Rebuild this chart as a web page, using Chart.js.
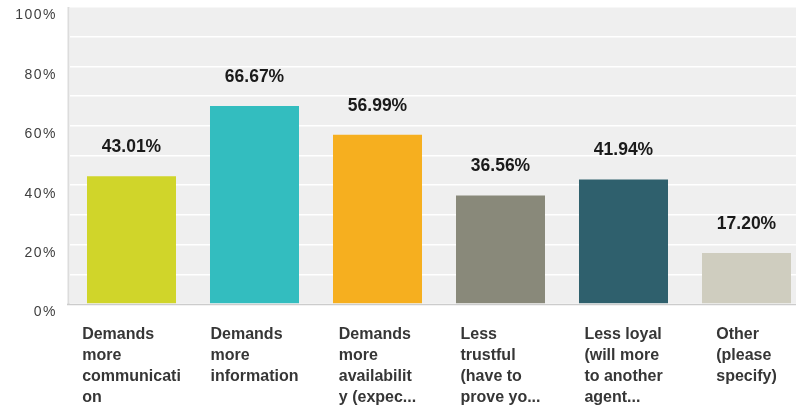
<!DOCTYPE html>
<html>
<head>
<meta charset="utf-8">
<script src="https://cdn.jsdelivr.net/npm/chart.js@4/dist/chart.umd.min.js"></script>
<style>
  html, body { margin: 0; padding: 0; background: #ffffff; overflow: hidden; }
  #wrap { width: 808px; height: 410px; }
</style>
</head>
<body>
<div id="wrap"><canvas id="c" width="808" height="410"></canvas></div>
<script>
// ---- data ----
const categories = [
  ["Demands", "more", "communicati", "on"],
  ["Demands", "more", "information"],
  ["Demands", "more", "availabilit", "y (expec..."],
  ["Less", "trustful", "(have to", "prove yo..."],
  ["Less loyal", "(will more", "to another", "agent..."],
  ["Other", "(please", "specify)"]
];
const values = [43.01, 66.67, 56.99, 36.56, 41.94, 17.20];
const barColors = ["#d0d52a", "#33bdbf", "#f6af1f", "#89897a", "#2f606d", "#cfcdbf"];
const yTickValues = [0, 20, 40, 60, 80, 100];
const yTickLabels = ["0%", "20%", "40%", "60%", "80%", "100%"];

const FONT = "'Liberation Sans', Arial, sans-serif";

const decor = {
  id: 'decor',
  beforeDraw(chart) {
    const { ctx, chartArea: a } = chart;
    ctx.save();
    ctx.fillStyle = '#efefef';
    ctx.fillRect(a.left, a.top, a.right - a.left, a.bottom - a.top);
    ctx.restore();
  },
  afterDatasetsDraw(chart) {
    const { ctx, chartArea: a, scales } = chart;
    ctx.save();
    // left border
    ctx.strokeStyle = '#dcdcdc';
    ctx.lineWidth = 2;
    ctx.beginPath();
    ctx.moveTo(a.left - 1.5, a.top);
    ctx.lineTo(a.left - 1.5, a.bottom + 1);
    ctx.stroke();
    // bottom axis line
    ctx.strokeStyle = '#cccccc';
    ctx.lineWidth = 1.5;
    ctx.beginPath();
    ctx.moveTo(a.left - 3, a.bottom + 0.5);
    ctx.lineTo(a.right, a.bottom + 0.5);
    ctx.stroke();

    // y tick labels
    const y = scales.y;
    ctx.font = '14px ' + FONT;
    ctx.fillStyle = '#3f3f3f';
    ctx.textAlign = 'right';
    ctx.textBaseline = 'middle';
    try { ctx.letterSpacing = '1.5px'; } catch (e) {}
    yTickValues.forEach((v, i) => {
      ctx.fillText(yTickLabels[i], 57, y.getPixelForValue(v) + 8.5);
    });
    try { ctx.letterSpacing = '0px'; } catch (e) {}

    // value labels above bars
    const meta = chart.getDatasetMeta(0);
    ctx.font = 'bold 17.5px ' + FONT;
    ctx.fillStyle = '#1a1a1a';
    ctx.textAlign = 'center';
    ctx.textBaseline = 'middle';
    meta.data.forEach((bar, i) => {
      ctx.fillText(values[i].toFixed(2) + '%', bar.x, bar.y - 29);
    });

    // category labels: block centred, lines left-aligned
    const x = scales.x;
    ctx.font = 'bold 16px ' + FONT;
    ctx.fillStyle = '#363636';
    ctx.textAlign = 'left';
    ctx.textBaseline = 'alphabetic';
    categories.forEach((lines, i) => {
      const cx = x.getPixelForValue(i);
      const w = Math.max(...lines.map(l => ctx.measureText(l).width));
      const left = cx - w / 2;
      lines.forEach((l, j) => {
        ctx.fillText(l, left, a.bottom + 34.5 + j * 21.3);
      });
    });
    ctx.restore();
  }
};

new Chart(document.getElementById('c'), {
  type: 'bar',
  data: {
    labels: categories,
    datasets: [{
      data: values,
      backgroundColor: barColors,
      borderWidth: 0,
      barPercentage: 0.7236,
      categoryPercentage: 1.0
    }]
  },
  options: {
    responsive: false,
    animation: false,
    devicePixelRatio: 1,
    layout: { padding: { left: 70, right: 0, top: 7, bottom: 106 } },
    plugins: { legend: { display: false }, tooltip: { enabled: false } },
    scales: {
      x: {
        display: false
      },
      y: {
        min: 0,
        max: 100,
        ticks: { display: false, stepSize: 10 },
        grid: { color: '#ffffff', lineWidth: 1.5, drawTicks: false },
        border: { display: false },
        afterFit(s) { s.width = 0; }
      }
    }
  },
  plugins: [decor]
});
</script>
</body>
</html>
